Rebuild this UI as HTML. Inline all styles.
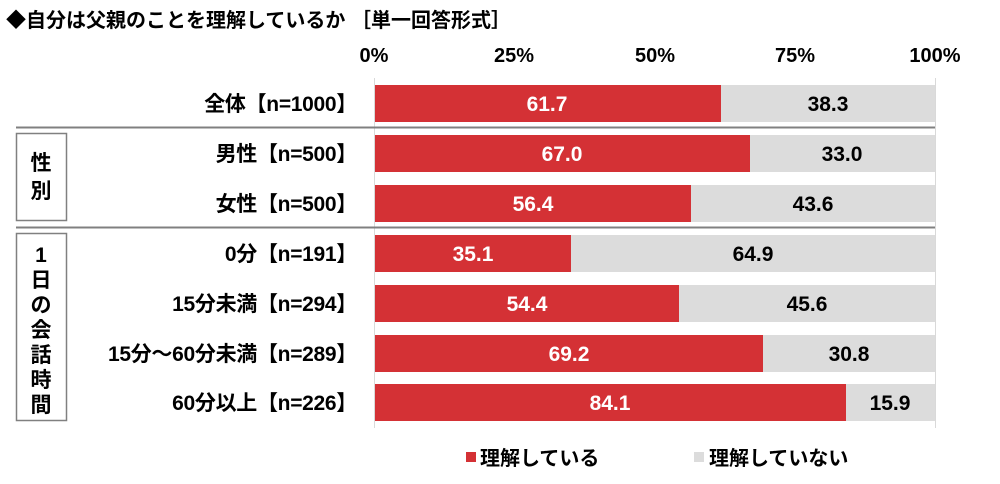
<!DOCTYPE html>
<html><head><meta charset="utf-8"><style>
body{margin:0;background:#fff}
text{font-family:"Liberation Sans","Noto Sans CJK JP",sans-serif;font-weight:bold}
</style></head><body>
<svg width="1000" height="479" xmlns="http://www.w3.org/2000/svg">
<text x="6" y="27" font-size="20" fill="#000">◆自分は父親のことを理解しているか ［単一回答形式］</text>
<g font-size="20" fill="#000" text-anchor="middle">
<text x="374" y="62">0%</text><text x="514" y="62">25%</text><text x="655" y="62">50%</text><text x="795" y="62">75%</text><text x="935" y="62">100%</text>
</g>
<g stroke="#d9d9d9" stroke-width="1">
<line x1="374.5" y1="78" x2="374.5" y2="428"/><line x1="935.5" y1="78" x2="935.5" y2="428"/>
</g>
<line x1="16" y1="127.5" x2="935" y2="127.5" stroke="#808080" stroke-width="2"/>
<line x1="16" y1="227.5" x2="935" y2="227.5" stroke="#808080" stroke-width="2"/>
<rect x="16.5" y="133.5" width="50" height="87" fill="none" stroke="#808080" stroke-width="1.5"/>
<rect x="16.5" y="233.5" width="50" height="187" fill="none" stroke="#808080" stroke-width="1.5"/>
<g font-size="21" fill="#000" text-anchor="middle">
<text x="41" y="170">性</text><text x="41" y="198">別</text>
<text x="41" y="262">1</text><text x="41" y="287">日</text><text x="41" y="312">の</text><text x="41" y="337">会</text><text x="41" y="362">話</text><text x="41" y="387">時</text><text x="41" y="412">間</text>
</g>
<g font-size="21" fill="#000" text-anchor="end" letter-spacing="-0.3">
<text x="357" y="111">全体【n=1000】</text>
<text x="357" y="161">男性【n=500】</text>
<text x="357" y="211">女性【n=500】</text>
<text x="357" y="261">0分【n=191】</text>
<text x="357" y="311">15分未満【n=294】</text>
<text x="357" y="361">15分～60分未満【n=289】</text>
<text x="357" y="410">60分以上【n=226】</text>
</g>
<g>
<rect x="375" y="85" width="346" height="37" fill="#d43135"/><rect x="721" y="85" width="214" height="37" fill="#dcdcdc"/>
<rect x="375" y="135" width="375" height="37" fill="#d43135"/><rect x="750" y="135" width="185" height="37" fill="#dcdcdc"/>
<rect x="375" y="185" width="316" height="37" fill="#d43135"/><rect x="691" y="185" width="244" height="37" fill="#dcdcdc"/>
<rect x="375" y="235" width="196" height="37" fill="#d43135"/><rect x="571" y="235" width="364" height="37" fill="#dcdcdc"/>
<rect x="375" y="285" width="304" height="37" fill="#d43135"/><rect x="679" y="285" width="256" height="37" fill="#dcdcdc"/>
<rect x="375" y="335" width="388" height="37" fill="#d43135"/><rect x="763" y="335" width="172" height="37" fill="#dcdcdc"/>
<rect x="375" y="384" width="471" height="37" fill="#d43135"/><rect x="846" y="384" width="89" height="37" fill="#dcdcdc"/>
</g>
<g font-size="21" text-anchor="middle">
<text x="547" y="111" fill="#fff">61.7</text><text x="828" y="111" fill="#000">38.3</text>
<text x="562" y="161" fill="#fff">67.0</text><text x="842" y="161" fill="#000">33.0</text>
<text x="533" y="211" fill="#fff">56.4</text><text x="813" y="211" fill="#000">43.6</text>
<text x="473" y="261" fill="#fff">35.1</text><text x="753" y="261" fill="#000">64.9</text>
<text x="527" y="311" fill="#fff">54.4</text><text x="807" y="311" fill="#000">45.6</text>
<text x="569" y="361" fill="#fff">69.2</text><text x="849" y="361" fill="#000">30.8</text>
<text x="610" y="410" fill="#fff">84.1</text><text x="890" y="410" fill="#000">15.9</text>
</g>
<rect x="466" y="452" width="10" height="10" fill="#d43135"/>
<text x="480" y="465" font-size="20" fill="#000">理解している</text>
<rect x="694" y="452" width="10" height="10" fill="#dcdcdc"/>
<text x="709" y="465" font-size="20" fill="#000">理解していない</text>
</svg>
</body></html>
